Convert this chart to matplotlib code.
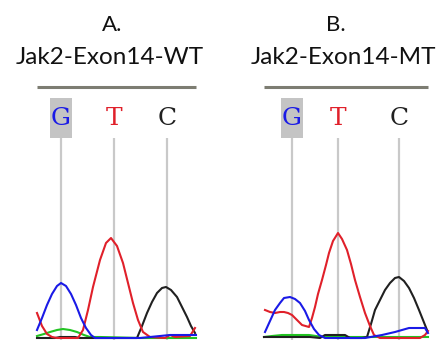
import matplotlib
matplotlib.use("Agg")
import matplotlib.pyplot as plt
from matplotlib.patches import Rectangle

W, H = 444, 340
fig = plt.figure(figsize=(W / 100, H / 100), dpi=100)

# ---------------- data (scan position, intensity) ----------------
bases = ["G", "T", "C"]
base_colors = ["#1a1ae6", "#e0202a", "#202020"]

# Panel A: Jak2-Exon14-WT
a_title = "A."
a_name = "Jak2-Exon14-WT"
a_calls = [61, 114, 167]
a_blue_x = [37, 42, 47, 52, 57, 61, 66, 71, 76, 81, 86, 91, 95, 120, 140, 160, 170, 196]
a_blue_y = [8, 20, 33, 44, 52, 55, 52, 44, 33, 20, 10, 3, 0, 0, 0, 2, 3, 3]
a_red_x = [37, 42, 47, 52, 57, 78, 83, 88, 93, 100, 106, 111, 117, 123, 128, 133, 138, 143, 150, 165, 170, 175, 190, 195]
a_red_y = [25, 12, 4, 1, 0, 0, 8, 28, 51, 78, 95, 100, 92, 75, 55, 35, 18, 6, 1, 0, 3, 1, 2, 10]
a_black_x = [37, 55, 60, 75, 80, 137, 142, 147, 152, 157, 162, 166, 171, 177, 182, 187, 191, 195]
a_black_y = [0, 0, 1, 1, 0, 0, 12, 25, 36, 45, 50, 51, 48, 41, 31, 21, 12, 5]
a_green_x = [37, 44, 50, 57, 63, 70, 77, 84, 90, 100, 140, 196]
a_green_y = [2, 4, 6, 8, 9, 8, 6, 3, 1, 1, 0, 0]

# Panel B: Jak2-Exon14-MT
b_title = "B."
b_name = "Jak2-Exon14-MT"
b_calls = [292, 338, 399]
b_blue_x = [265, 270, 275, 280, 284, 290, 295, 300, 305, 309, 314, 319, 325, 365, 382, 395, 409, 418, 425, 428]
b_blue_y = [6, 17, 28, 35, 40, 41, 39, 35, 27, 18, 9, 3, 0, 0, 3, 6, 10, 10, 10, 5]
b_red_x = [265, 270, 275, 280, 284, 288, 292, 297, 302, 309, 312, 315, 318, 322, 326, 329, 333, 338, 342, 347, 351, 355, 360, 365, 370, 374, 380, 420, 425, 428]
b_red_y = [28, 26, 25, 26, 26, 25, 23, 18, 13, 11, 20, 31, 44, 58, 73, 85, 97, 105, 99, 88, 74, 58, 41, 25, 12, 3, 0, 0, 3, 7]
b_black_x = [264, 310, 320, 325, 335, 345, 350, 362, 367, 371, 375, 380, 385, 390, 395, 399, 404, 409, 414, 419, 423, 427]
b_black_y = [1, 1, 0, 3, 3, 3, 0, 0, 1, 14, 28, 38, 48, 55, 60, 61, 57, 50, 40, 28, 18, 8]
b_green_x = [264, 272, 282, 295, 309, 316, 322, 360, 428]
b_green_y = [1, 2, 3, 3, 3, 2, 1, 1, 1]

panels = [
    dict(title=a_title, name=a_name, calls=a_calls, x0=37, x1=196, tcx=112, ncx=110,
         traces=[(a_green_x, a_green_y, "#22c422"), (a_black_x, a_black_y, "#202020"),
                 (a_red_x, a_red_y, "#e0202a"), (a_blue_x, a_blue_y, "#1a1ae6")]),
    dict(title=b_title, name=b_name, calls=b_calls, x0=264, x1=428, tcx=336, ncx=343,
         traces=[(b_green_x, b_green_y, "#22c422"), (b_black_x, b_black_y, "#202020"),
                 (b_red_x, b_red_y, "#e0202a"), (b_blue_x, b_blue_y, "#1a1ae6")]),
]

TOP_PX, BOT_PX, BASE_PX = 87, 340, 338
ymin = -(BOT_PX - BASE_PX)
ymax = BASE_PX - TOP_PX
line_top = BASE_PX - 138
box_top = BASE_PX - 98
letter_y = BASE_PX - 118

for p in panels:
    ax = fig.add_axes([p["x0"] / W, 0, (p["x1"] - p["x0"]) / W, (BOT_PX - TOP_PX) / H])
    ax.set_xlim(p["x0"], p["x1"])
    ax.set_ylim(ymin, ymax)
    ax.axis("off")
    # header rule
    ax.plot([p["x0"], p["x1"]], [ymax, ymax], color="#7d7d72", lw=2.2,
            solid_capstyle="butt", clip_on=False)
    # G highlight box
    ax.add_patch(Rectangle((p["calls"][0] - 11, line_top), 22, box_top - line_top,
                           facecolor="#c4c4c4", edgecolor="none", zorder=1))
    # call lines
    ax.vlines(p["calls"], ymin, line_top, colors="#c9c9c9", lw=1.6, zorder=1)
    for xc, b, c in zip(p["calls"], bases, base_colors):
        ax.text(xc, letter_y, b, color=c, ha="center", va="center",
                fontsize=18, family="DejaVu Serif", zorder=3)
    for xs, ys, c in p["traces"]:
        ax.plot(xs, ys, color=c, lw=1.5, zorder=2, clip_on=False)
    fig.text(p["tcx"] / W, 1 - 25 / H, p["title"], ha="center", va="center",
             fontsize=16, family="Lato", color="#111111")
    fig.text(p["ncx"] / W, 1 - 58 / H, p["name"], ha="center", va="center",
             fontsize=17.5, family="Lato", color="#111111")

fig.savefig("out.png", dpi=100, facecolor="white")
